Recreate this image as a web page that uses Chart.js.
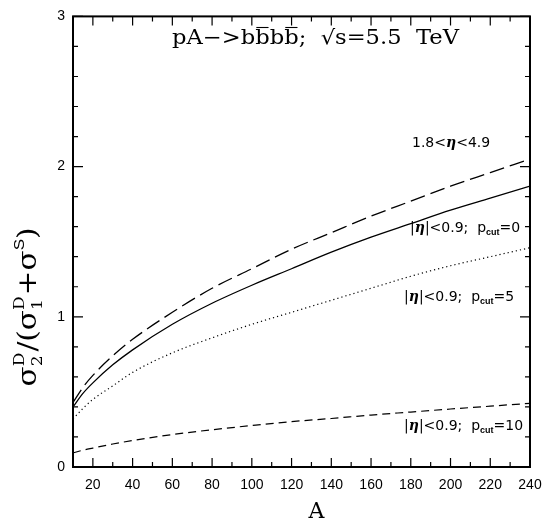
<!DOCTYPE html>
<html>
<head>
<meta charset="utf-8">
<script src="https://cdn.jsdelivr.net/npm/chart.js@4.4.1/dist/chart.umd.min.js"></script>
<style>
  html, body { margin: 0; padding: 0; background: #fff; }
  #wrap { width: 552px; height: 523px; }
</style>
</head>
<body>
<div id="wrap"><canvas id="chart" width="552" height="523"></canvas></div>
<script>
// --- data ---
const massNumbers = [10, 15, 20, 30, 40, 60, 80, 100, 120, 140, 160, 180, 200, 220, 240];
const forwardEta  = [0.43, 0.53, 0.61, 0.74, 0.85, 1.03, 1.19, 1.32, 1.45, 1.56, 1.67, 1.77, 1.87, 1.96, 2.05];
const centralCut0 = [0.40, 0.49, 0.56, 0.68, 0.78, 0.95, 1.09, 1.21, 1.32, 1.43, 1.53, 1.62, 1.71, 1.79, 1.87];
const centralCut5 = [0.32, 0.39, 0.45, 0.54, 0.63, 0.76, 0.86, 0.95, 1.03, 1.11, 1.19, 1.27, 1.34, 1.40, 1.46];
const centralCut10 = [0.094, 0.112, 0.126, 0.153, 0.176, 0.216, 0.248, 0.276, 0.302, 0.323, 0.346, 0.366, 0.386, 0.405, 0.424];

const xMin = 10, xMax = 240, xStep = 10, xLabelEvery = 20;
const yMin = 0, yMax = 3, yStep = 0.2;

const toPoints = vals => vals.map((v, i) => ({ x: massNumbers[i], y: v }));

// --- text helpers ---
function drawRun(ctx, parts, x, y) {
    // parts: {t, font, dy, over, adv}
    let cx = x;
    parts.forEach(p => {
        ctx.font = p.font;
        const w = ctx.measureText(p.t).width;
        ctx.fillText(p.t, cx, y + (p.dy || 0));
        if (p.over) {
            ctx.beginPath();
            ctx.lineWidth = 1.1;
            ctx.moveTo(cx + 1, y + p.over);
            ctx.lineTo(cx + w - 1, y + p.over);
            ctx.stroke();
        }
        cx += p.adv !== undefined ? p.adv : w;
    });
    return cx - x;
}

function runWidth(ctx, parts) {
    let w = 0;
    parts.forEach(p => { ctx.font = p.font; w += p.adv !== undefined ? p.adv : ctx.measureText(p.t).width; });
    return w;
}

const SANS = "'Liberation Sans', Arial, sans-serif";
const LABEL = "'DejaVu Sans', sans-serif";
const SERIF = "'DejaVu Serif', serif";

function cutLabel(val) {
    return [
        { t: '|', font: `14px ${LABEL}` },
        { t: 'η', font: `italic bold 14px ${SERIF}` },
        { t: '|<0.9;  p', font: `14px ${LABEL}` },
        { t: 'cut', font: `bold 9px ${SANS}`, dy: 3 },
        { t: '=' + val, font: `14px ${LABEL}` }
    ];
}

// draw a run squeezed/stretched to a given length
function drawFitted(ctx, parts, x, y, length) {
    const w = runWidth(ctx, parts);
    ctx.save();
    ctx.translate(x, y);
    ctx.scale(length / w, 1);
    drawRun(ctx, parts, 0, 0);
    ctx.restore();
}

const annotations = {
    id: 'annotations',
    afterDraw(chart) {
        const { ctx, chartArea: a, scales: { x, y } } = chart;
        ctx.save();
        ctx.fillStyle = '#000';
        ctx.strokeStyle = '#000';

        // inward tick marks on all four sides
        ctx.lineWidth = 1.2;
        ctx.beginPath();
        x.ticks.forEach(t => {
            const px = x.getPixelForValue(t.value);
            const len = t.value % xLabelEvery === 0 ? 9 : 5;
            ctx.moveTo(px, a.bottom); ctx.lineTo(px, a.bottom - len);
            ctx.moveTo(px, a.top); ctx.lineTo(px, a.top + len);
        });
        y.ticks.forEach(t => {
            const py = y.getPixelForValue(t.value);
            const major = Math.abs(t.value - Math.round(t.value)) < 1e-6;
            const len = major ? 10 : 5;
            ctx.moveTo(a.left, py); ctx.lineTo(a.left + len, py);
            ctx.moveTo(a.right, py); ctx.lineTo(a.right - len, py);
        });
        ctx.stroke();
        ctx.lineWidth = 2;
        ctx.strokeRect(a.left, a.top, a.right - a.left, a.bottom - a.top);

        ctx.textBaseline = 'alphabetic';
        ctx.textAlign = 'left';

        // title
        const tf = `20px ${SERIF}`;
        drawFitted(ctx, [
            { t: 'pA−>b', font: tf },
            { t: 'b', font: tf, over: -16.5 },
            { t: 'b', font: tf },
            { t: 'b', font: tf, over: -16.5 },
            { t: ';  √s=5.5  TeV', font: tf }
        ], 172, 44, 287);

        // curve labels
        drawRun(ctx, [
            { t: '1.8<', font: `14px ${LABEL}` },
            { t: 'η', font: `italic bold 14px ${SERIF}` },
            { t: '<4.9', font: `14px ${LABEL}` }
        ], 412, 147);
        drawRun(ctx, cutLabel('0'), 410, 232);
        drawRun(ctx, cutLabel('5'), 404, 301);
        drawRun(ctx, cutLabel('10'), 404, 430);

        // x axis title
        ctx.font = `22px ${SERIF}`;
        ctx.textAlign = 'center';
        ctx.fillText('A', 316.5, 518);
        ctx.textAlign = 'left';

        // y axis title, rotated
        const big = `26px ${SERIF}`, small = `15px ${SERIF}`, smallSans = `15px ${SANS}`;
        const supsub = (sup, sub) => {
            ctx.font = small;
            return Math.max(ctx.measureText(sup).width, ctx.measureText(sub).width);
        };
        const w1 = supsub('D', '2'), w2 = supsub('D', '1');
        const yParts = [
            { t: 'σ', font: big },
            { t: 'D', font: small, dy: -12, adv: 0 },
            { t: '2', font: small, dy: 6, adv: w1 + 1 },
            { t: '/', font: big },
            { t: '(', font: big },
            { t: 'σ', font: big },
            { t: 'D', font: small, dy: -12, adv: 0 },
            { t: '1', font: small, dy: 6, adv: w2 + 1 },
            { t: '+', font: big },
            { t: 'σ', font: big },
            { t: 'S', font: smallSans, dy: -12 },
            { t: ')', font: big }
        ];
        ctx.translate(36, 307);
        ctx.rotate(-Math.PI / 2);
        drawFitted(ctx, yParts, -79.5, 0, 159);
        ctx.restore();
    }
};

const lineStyle = (dash, width) => ({
    borderColor: '#000',
    borderWidth: width,
    borderDash: dash,
    pointRadius: 0,
    fill: false,
    cubicInterpolationMode: 'monotone'
});

new Chart(document.getElementById('chart').getContext('2d'), {
    type: 'line',
    data: {
        datasets: [
            { label: '1.8<η<4.9', data: toPoints(forwardEta), ...lineStyle([15, 6], 1.3) },
            { label: '|η|<0.9; pcut=0', data: toPoints(centralCut0), ...lineStyle([], 1.3) },
            { label: '|η|<0.9; pcut=5', data: toPoints(centralCut5), ...lineStyle([1.2, 3], 1.2) },
            { label: '|η|<0.9; pcut=10', data: toPoints(centralCut10), ...lineStyle([8, 5], 1.2) }
        ]
    },
    options: {
        responsive: false,
        animation: false,
        layout: { padding: { left: 0, top: 9, right: 22, bottom: 0 } },
        plugins: { legend: { display: false }, tooltip: { enabled: false } },
        scales: {
            x: {
                type: 'linear',
                min: xMin, max: xMax,
                grid: { display: false, drawTicks: false },
                border: { display: false },
                ticks: {
                    stepSize: xStep, autoSkip: false, maxRotation: 0, padding: 10,
                    color: '#000', font: { family: SANS, size: 14 },
                    callback: v => (v % xLabelEvery === 0 ? String(v) : '')
                },
                afterFit: s => { s.height = 56; }
            },
            y: {
                min: yMin, max: yMax,
                grid: { display: false, drawTicks: false },
                border: { display: false },
                ticks: {
                    stepSize: yStep, autoSkip: false, padding: 8,
                    color: '#000', font: { family: SANS, size: 14 },
                    callback: v => (Math.abs(v - Math.round(v)) < 1e-6 ? String(Math.round(v)) : '')
                },
                afterFit: s => { s.width = 73; }
            }
        }
    },
    plugins: [annotations]
});
</script>
</body>
</html>
